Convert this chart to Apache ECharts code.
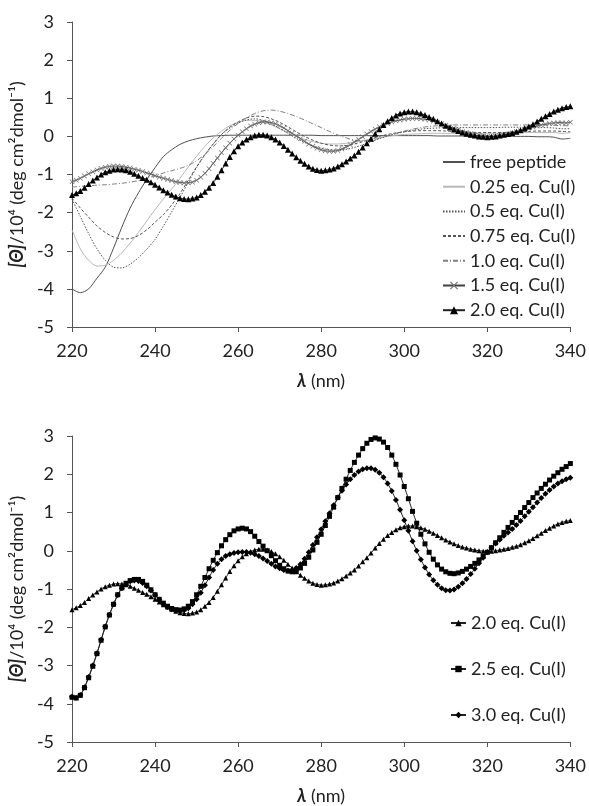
<!DOCTYPE html>
<html>
<head>
<meta charset="utf-8">
<script src="https://cdn.jsdelivr.net/npm/echarts@6/dist/echarts.min.js"></script>
<style>
  html, body { margin: 0; padding: 0; background: #fff; }
  #chart { width: 589px; height: 806px; }
</style>
</head>
<body>
<div id="chart"></div>
<script>
// Espectros CD - titulación con Cu(I)

// longitudes de onda (nm)
const wl2 = [220,222,224,226,228,230,232,234,236,238,240,242,244,246,248,250,252,254,256,258,
  260,262,264,266,268,270,272,274,276,278,280,282,284,286,288,290,292,294,296,298,
  300,302,304,306,308,310,312,314,316,318,320,322,324,326,328,330,332,334,336,338,340];
const wl1 = [220,221,222,223,224,225,226,227,228,229,230,231,232,233,234,235,236,237,238,239,
  240,241,242,243,244,245,246,247,248,249,250,251,252,253,254,255,256,257,258,259,
  260,261,262,263,264,265,266,267,268,269,270,271,272,273,274,275,276,277,278,279,
  280,281,282,283,284,285,286,287,288,289,290,291,292,293,294,295,296,297,298,299,
  300,301,302,303,304,305,306,307,308,309,310,311,312,313,314,315,316,317,318,319,
  320,321,322,323,324,325,326,327,328,329,330,331,332,333,334,335,336,337,338,339,340];

const xTicks = [220, 240, 260, 280, 300, 320, 340];
const yTicks = [-5, -4, -3, -2, -1, 0, 1, 2, 3];

// [Θ]/10^4 - series cada 2 nm
const freePeptide = [-4.0,-4.1,-4.0,-3.72,-3.43,-2.93,-2.38,-1.88,-1.48,-1.13,-0.82,-0.53,-0.35,-0.21,-0.12,-0.06,-0.02,0.01,0.02,0.03,
  0.03,0.03,0.03,0.03,0.03,0.03,0.03,0.03,0.03,0.03,0.02,0.02,0.02,0.02,0.02,0.02,0.02,0.02,0.02,0.02,
  0.02,0.02,0.02,0.02,0.01,0.01,0.01,0.01,0.01,0.01,0.01,0.0,0.0,0.0,0.0,0.0,-0.01,-0.01,-0.02,-0.07,-0.05];
const eq025 = [-2.45,-2.95,-3.25,-3.4,-3.38,-3.25,-3.05,-2.8,-2.52,-2.22,-1.92,-1.64,-1.38,-1.1,-0.8,-0.52,-0.26,-0.04,0.14,0.28,
  0.37,0.42,0.42,0.38,0.3,0.2,0.1,0.0,-0.08,-0.14,-0.18,-0.2,-0.2,-0.18,-0.15,-0.11,-0.07,-0.03,0.0,0.03,
  0.05,0.06,0.07,0.08,0.08,0.08,0.08,0.08,0.08,0.08,0.08,0.08,0.09,0.09,0.1,0.1,0.1,0.1,0.1,0.08,0.1];
const eq05 = [-1.65,-2.1,-2.55,-2.95,-3.25,-3.43,-3.45,-3.35,-3.18,-2.96,-2.7,-2.35,-1.98,-1.6,-1.2,-0.82,-0.48,-0.2,0.05,0.22,
  0.35,0.43,0.46,0.42,0.33,0.21,0.08,-0.05,-0.16,-0.25,-0.31,-0.35,-0.36,-0.34,-0.29,-0.22,-0.14,-0.06,0.01,0.07,
  0.12,0.16,0.19,0.21,0.22,0.23,0.23,0.23,0.23,0.23,0.23,0.23,0.24,0.24,0.24,0.24,0.23,0.23,0.22,0.2,0.2];
const eq075 = [-1.62,-1.88,-2.12,-2.35,-2.52,-2.64,-2.69,-2.68,-2.6,-2.45,-2.25,-2.05,-1.8,-1.5,-1.15,-0.8,-0.48,-0.2,0.05,0.24,
  0.38,0.48,0.53,0.52,0.46,0.37,0.25,0.12,0.0,-0.1,-0.18,-0.23,-0.25,-0.24,-0.2,-0.14,-0.07,0.0,0.05,0.09,
  0.12,0.14,0.15,0.15,0.15,0.14,0.13,0.12,0.11,0.1,0.1,0.1,0.1,0.11,0.12,0.13,0.14,0.14,0.14,0.13,0.12];
const eq10 = [-1.33,-1.31,-1.3,-1.28,-1.27,-1.25,-1.23,-1.2,-1.16,-1.1,-1.03,-0.96,-0.9,-0.84,-0.76,-0.64,-0.47,-0.27,-0.05,0.16,
  0.34,0.49,0.6,0.67,0.69,0.66,0.6,0.52,0.43,0.33,0.23,0.13,0.04,-0.04,-0.1,-0.12,-0.1,-0.05,0.02,0.08,
  0.14,0.19,0.23,0.26,0.28,0.29,0.3,0.3,0.3,0.3,0.3,0.3,0.3,0.3,0.3,0.3,0.3,0.3,0.29,0.28,0.28];

// series cada 1 nm (con marcadores)
const eq15 = [-1.19,-1.15,-1.1,-1.04,-0.98,-0.93,-0.88,-0.84,-0.81,-0.79,-0.78,-0.78,-0.79,-0.81,-0.83,-0.86,-0.89,-0.92,-0.96,-0.99,
  -1.03,-1.07,-1.1,-1.13,-1.16,-1.19,-1.21,-1.22,-1.22,-1.2,-1.15,-1.07,-0.97,-0.85,-0.71,-0.57,-0.43,-0.3,-0.18,-0.07,
  0.03,0.12,0.2,0.27,0.32,0.36,0.38,0.38,0.36,0.33,0.28,0.22,0.15,0.08,0.01,-0.06,-0.13,-0.2,-0.26,-0.31,
  -0.35,-0.38,-0.39,-0.39,-0.37,-0.33,-0.28,-0.22,-0.15,-0.08,-0.01,0.06,0.13,0.19,0.25,0.3,0.34,0.38,0.41,0.43,
  0.45,0.46,0.47,0.47,0.46,0.45,0.43,0.4,0.37,0.33,0.29,0.25,0.21,0.17,0.13,0.1,0.07,0.04,0.02,0.01,
  0.0,0.0,0.01,0.02,0.04,0.06,0.09,0.12,0.15,0.18,0.21,0.24,0.27,0.3,0.32,0.34,0.35,0.36,0.36,0.35,0.37];
const eq20 = [-1.54,-1.49,-1.43,-1.35,-1.25,-1.16,-1.08,-1.0,-0.94,-0.9,-0.87,-0.86,-0.87,-0.89,-0.93,-0.98,-1.03,-1.09,-1.14,-1.2,
  -1.27,-1.34,-1.41,-1.47,-1.53,-1.58,-1.62,-1.64,-1.65,-1.63,-1.6,-1.54,-1.45,-1.35,-1.22,-1.06,-0.89,-0.71,-0.54,-0.39,
  -0.26,-0.16,-0.08,-0.02,0.02,0.04,0.04,0.02,-0.02,-0.08,-0.16,-0.25,-0.35,-0.45,-0.55,-0.64,-0.72,-0.79,-0.85,-0.88,
  -0.9,-0.89,-0.87,-0.84,-0.79,-0.73,-0.66,-0.58,-0.5,-0.4,-0.29,-0.18,-0.06,0.07,0.19,0.3,0.4,0.48,0.55,0.6,
  0.63,0.65,0.65,0.63,0.6,0.56,0.51,0.46,0.4,0.34,0.28,0.23,0.18,0.14,0.1,0.07,0.04,0.02,0.0,-0.01,
  -0.02,-0.01,0.0,0.02,0.04,0.06,0.09,0.12,0.16,0.21,0.26,0.32,0.39,0.46,0.53,0.59,0.65,0.7,0.74,0.77,0.79];
const eq25 = [-3.83,-3.85,-3.78,-3.58,-3.32,-3.02,-2.69,-2.34,-1.99,-1.68,-1.4,-1.15,-0.97,-0.85,-0.78,-0.75,-0.75,-0.8,-0.9,-1.02,
  -1.15,-1.27,-1.37,-1.45,-1.51,-1.54,-1.55,-1.52,-1.45,-1.33,-1.15,-0.93,-0.7,-0.47,-0.25,-0.05,0.13,0.29,0.42,0.52,
  0.57,0.59,0.57,0.5,0.38,0.24,0.12,0.0,-0.13,-0.26,-0.38,-0.47,-0.53,-0.55,-0.52,-0.45,-0.33,-0.17,0.02,0.22,
  0.43,0.66,0.9,1.14,1.39,1.63,1.87,2.1,2.31,2.5,2.67,2.81,2.91,2.95,2.92,2.84,2.7,2.5,2.26,1.98,
  1.68,1.36,1.03,0.72,0.43,0.18,-0.04,-0.22,-0.37,-0.48,-0.55,-0.59,-0.6,-0.58,-0.54,-0.48,-0.41,-0.33,-0.24,-0.14,
  -0.04,0.08,0.21,0.34,0.48,0.61,0.74,0.87,1.0,1.13,1.26,1.39,1.51,1.63,1.74,1.85,1.95,2.04,2.13,2.2,2.28];
const eq30 = [-3.82,-3.84,-3.77,-3.57,-3.3,-3.0,-2.68,-2.33,-1.98,-1.67,-1.4,-1.16,-0.98,-0.87,-0.8,-0.78,-0.79,-0.84,-0.93,-1.04,
  -1.16,-1.28,-1.39,-1.47,-1.53,-1.56,-1.57,-1.55,-1.5,-1.4,-1.27,-1.1,-0.9,-0.7,-0.5,-0.34,-0.22,-0.14,-0.09,-0.06,
  -0.04,-0.03,-0.03,-0.05,-0.09,-0.14,-0.2,-0.27,-0.34,-0.41,-0.46,-0.5,-0.52,-0.51,-0.45,-0.35,-0.21,-0.04,0.15,0.35,
  0.56,0.77,0.98,1.19,1.39,1.57,1.73,1.87,1.98,2.07,2.13,2.16,2.16,2.12,2.04,1.92,1.76,1.56,1.33,1.07,
  0.8,0.52,0.25,0.0,-0.23,-0.44,-0.62,-0.77,-0.89,-0.98,-1.03,-1.04,-1.01,-0.94,-0.85,-0.74,-0.61,-0.47,-0.33,-0.18,
  -0.04,0.08,0.19,0.29,0.39,0.48,0.57,0.67,0.78,0.9,1.02,1.14,1.26,1.38,1.49,1.59,1.68,1.76,1.82,1.87,1.91];

const namesTop = ['free peptide', '0.25 eq. Cu(I)', '0.5 eq. Cu(I)', '0.75 eq. Cu(I)', '1.0 eq. Cu(I)', '1.5 eq. Cu(I)', '2.0 eq. Cu(I)'];
const namesBottom = ['2.0 eq. Cu(I)', '2.5 eq. Cu(I)', '3.0 eq. Cu(I)'];

const FONT = 'Lato';
const crossPath = 'path://M0,1L1,0L5,4L9,0L10,1L6,5L10,9L9,10L5,6L1,10L0,9L4,5Z';

function pairs(xs, ys) {
    return xs.map((x, i) => [x, ys[i]]);
}

function xAxisCfg(idx) {
    return {
        type: 'value', gridIndex: idx, min: 220, max: 340, interval: 20,
        axisLine: { show: true, onZero: false, lineStyle: { color: '#555', width: 1 } },
        axisTick: { show: true, length: 5, lineStyle: { color: '#555' } },
        axisLabel: { fontFamily: FONT, fontSize: 18, color: '#222', margin: 15,
            formatter: v => xTicks.includes(v) ? String(v) : '' },
        splitLine: { show: false },
        name: '{b|λ} (nm)', nameLocation: 'middle', nameGap: 45,
        nameTextStyle: { fontFamily: FONT, fontSize: 18, color: '#222',
            rich: { b: { fontFamily: FONT, fontSize: 18, fontWeight: 'bold', fontStyle: 'italic', color: '#222' } } }
    };
}

function yAxisCfg(idx) {
    return {
        type: 'value', gridIndex: idx, min: -5, max: 3, interval: 1,
        axisLine: { show: true, onZero: false, lineStyle: { color: '#555', width: 1 } },
        axisTick: { show: true, length: 5, lineStyle: { color: '#555' } },
        axisLabel: { fontFamily: FONT, fontSize: 18, color: '#222', margin: 18,
            formatter: v => yTicks.includes(v) ? String(v) : '' },
        splitLine: { show: false },
        name: '{b|[Θ]}/10⁴ (deg cm²dmol⁻¹)', nameLocation: 'middle', nameGap: 41,
        nameTextStyle: { fontFamily: FONT, fontSize: 18, color: '#222',
            rich: { b: { fontFamily: FONT, fontSize: 18, fontWeight: 'bold', fontStyle: 'italic', color: '#222' } } }
    };
}

// líneas sin marcador: el símbolo de la leyenda se oculta con opacity 0
function lineSeries(name, xs, ys, color, type, width, gi) {
    return {
        name: name, type: 'line', xAxisIndex: gi, yAxisIndex: gi,
        data: pairs(xs, ys), smooth: 0.3, showSymbol: false, symbol: 'none',
        lineStyle: { color: color, width: width, type: type },
        itemStyle: { color: color, opacity: 0 }
    };
}

function markerSeries(name, xs, ys, symbol, size, color, lineColor, gi) {
    return {
        name: name, type: 'line', xAxisIndex: gi, yAxisIndex: gi,
        data: pairs(xs, ys), smooth: 0.2, symbol: symbol, symbolSize: size, showSymbol: true,
        lineStyle: { color: lineColor, width: 1 },
        itemStyle: { color: color, borderWidth: 0 },
        z: 3
    };
}

const chart = echarts.init(document.getElementById('chart'));

const option = {
    animation: false,
    backgroundColor: '#fff',
    grid: [
        { left: 71, right: 18, top: 22, height: 305 },
        { left: 71, right: 18, top: 436, height: 307 }
    ],
    xAxis: [xAxisCfg(0), xAxisCfg(1)],
    yAxis: [yAxisCfg(0), yAxisCfg(1)],
    legend: [
        {
            orient: 'vertical', left: 437, top: 146, itemWidth: 22, itemHeight: 10, itemGap: 2.7,
            textStyle: { fontFamily: FONT, fontSize: 18, color: '#222', lineHeight: 22 },
            data: namesTop
        },
        {
            orient: 'vertical', left: 445, top: 607, itemWidth: 15, itemHeight: 8, itemGap: 24,
            textStyle: { fontFamily: FONT, fontSize: 18, color: '#222', lineHeight: 22 },
            data: namesBottom
        }
    ],
    series: [
        lineSeries(namesTop[0], wl2, freePeptide, '#505050', 'solid', 1, 0),
        lineSeries(namesTop[1], wl2, eq025, '#b8b8b8', 'solid', 1, 0),
        lineSeries(namesTop[2], wl2, eq05, '#555', [1.5, 1.5], 1, 0),
        lineSeries(namesTop[3], wl2, eq075, '#555', [3, 2], 1, 0),
        lineSeries(namesTop[4], wl2, eq10, '#808080', [5, 2, 1, 2], 1, 0),
        markerSeries(namesTop[5], wl1, eq15, crossPath, 5, '#707070', '#404040', 0),
        markerSeries(namesTop[6], wl1, eq20, 'triangle', 6, '#000', '#222', 0),
        markerSeries(namesBottom[0], wl1, eq20, 'triangle', 5, '#000', '#222', 1),
        markerSeries(namesBottom[1], wl1, eq25, 'rect', 5, '#000', '#222', 1),
        markerSeries(namesBottom[2], wl1, eq30, 'diamond', 6, '#000', '#222', 1)
    ]
};

chart.setOption(option);
</script>
</body>
</html>
